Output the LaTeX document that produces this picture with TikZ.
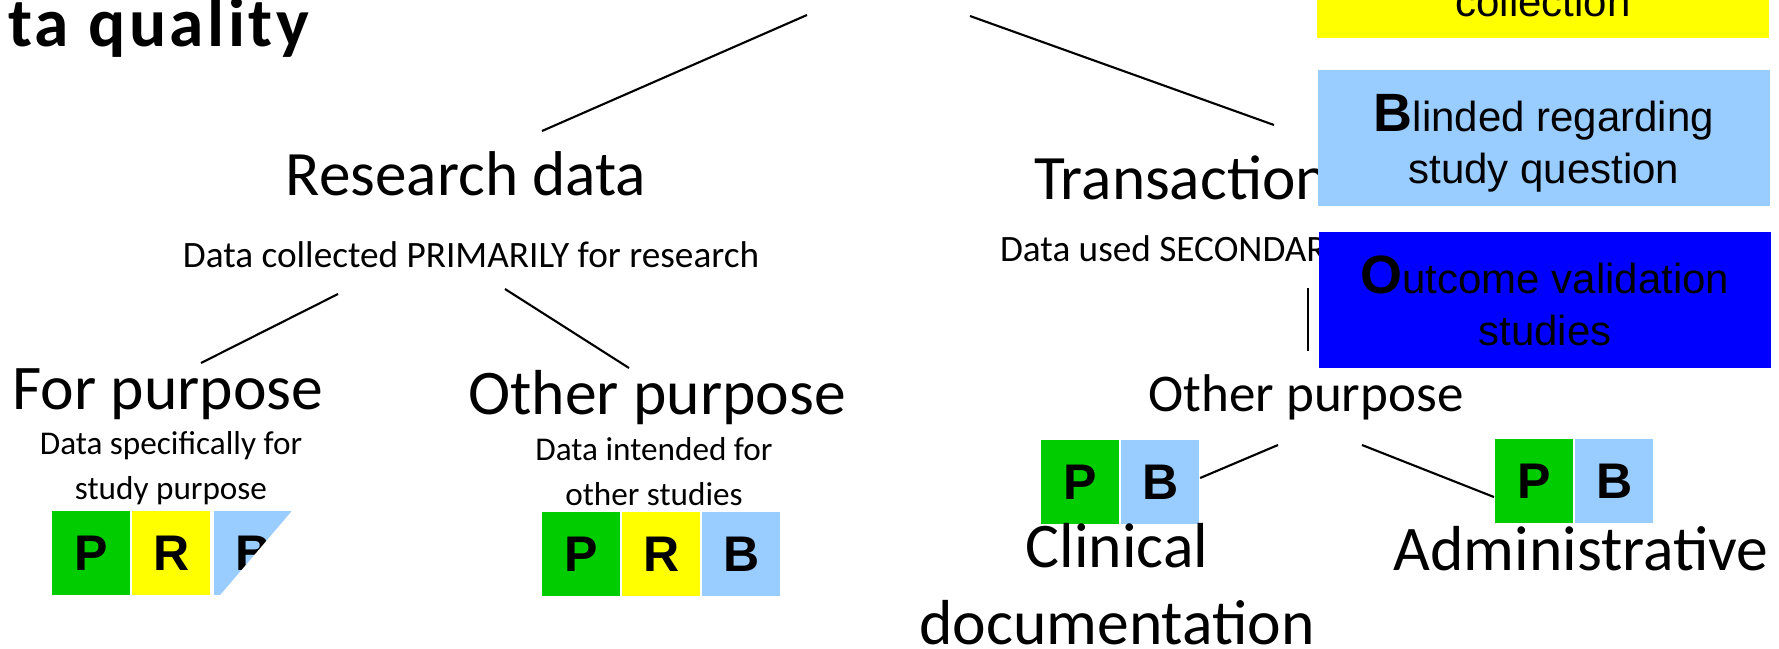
\documentclass[tikz,border=0pt]{standalone}
\usepackage{fontspec}
\setmainfont{Carlito}
\newfontfamily\arialfont{Liberation Sans}
\newfontfamily\titlefont[LetterSpace=5]{Carlito}
\usetikzlibrary{positioning,calc}
\definecolor{pgreen}{HTML}{00CC00}
\definecolor{pyellow}{HTML}{FFFF00}
\definecolor{plblue}{HTML}{99CCFF}
\definecolor{pblue}{HTML}{0000FF}
\tikzset{every picture/.style={line width=1.2pt}}
\newcommand{\initial}[1]{\rule{0pt}{27pt}{\bfseries\fontsize{30.7}{30}\selectfont #1}}
\newcommand{\lowline}{\rule[-5pt]{0pt}{5pt}}

\begin{document}
\begin{tikzpicture}[x=0.02cm, y=-0.02cm,
    branch/.style={draw=black, line width=1.2pt},
    titletxt/.style={inner sep=0pt, anchor=base west, font=\titlefont\bfseries\fontsize{39.5}{44}\selectfont},
    head/.style={inner sep=0pt, anchor=base, font=\fontsize{36}{44}\selectfont},
    sub/.style={inner sep=0pt, anchor=base, font=\fontsize{21.2}{25}\selectfont},
    kind/.style={inner sep=0pt, anchor=base, font=\fontsize{36.2}{43.8}\selectfont, align=center},
    note/.style={inner sep=0pt, anchor=base, font=\fontsize{18.9}{25.6}\selectfont, align=center},
    cellbox/.style={inner sep=0pt, minimum width=1.56cm, minimum height=1.7cm,
        font=\arialfont\bfseries\fontsize{28.5}{30}\selectfont},
    bigbox/.style={inner sep=0pt, minimum width=9.06cm, minimum height=2.72cm, align=center,
        font=\arialfont\fontsize{23.9}{29.6}\selectfont}
]
    \useasboundingbox (0,0) rectangle (1779,649);
    \clip (0,0) rectangle (1779,649);

    % title
    \node[titletxt] (title) at (7,46) {ta quality};

    % links from the root above the frame
    \coordinate (rootL) at (807,15);
    \coordinate (rootR) at (970,16);

    % research data
    \node[head] (research) at (466,195) {Research data};
    \node[sub] (researchsub) at (471,267) {Data collected PRIMARILY for research};

    % transactional data
    \node[head, anchor=base west] (transact) at (1033,199) {Transaction};
    \node[sub, anchor=base west] (transactsub) at (999,261) {Data used SECONDAR};

    % for purpose
    \node[kind] (forpurp) at (168,409) {For purpose};
    \node[note] (forpurpsub) at (171,499) {Data specifically for\\study purpose};
    \node[cellbox, fill=pgreen] (fpP) at (91,553) {P};
    \node[cellbox, fill=pyellow, right=0pt of fpP] (fpR) {R};
    \node[cellbox, fill=plblue, right=0.04cm of fpR] (fpB) {B};
    \fill[white] (fpB.north east) -- ([shift={(1,1)}]fpB.south east) -- ([shift={(5,1)}]fpB.south west) -- cycle;

    % other purpose (research)
    \node[kind] (otherpurp) at (657,414) {Other purpose};
    \node[note] (otherpurpsub) at (654,505) {Data intended for\\other studies};
    \node[cellbox, fill=pgreen] (opP) at (581,554) {P};
    \node[cellbox, fill=pyellow, right=0pt of opP] (opR) {R};
    \node[cellbox, fill=plblue, right=0pt of opR] (opB) {B};

    % other purpose (transactional)
    \node[inner sep=0pt, anchor=base, font=\fontsize{30.2}{36}\selectfont] (secpurp) at (1306,411) {Other purpose};
    \node[cellbox, fill=pgreen] (clinP) at (1080,482) {P};
    \node[cellbox, fill=plblue, right=0pt of clinP] (clinB) {B};
    \node[kind] (clinical) at (1117,644) {Clinical\\documentation};
    \node[cellbox, fill=pgreen] (adminP) at (1534,481) {P};
    \node[cellbox, fill=plblue, right=0pt of adminP] (adminB) {B};
    \node[kind] (admin) at (1581,570) {Administrative};

    % branches
    \draw[branch] (rootL) -- ([shift={(76,-64)}]research.base);
    \draw[branch] (rootR) -- ([shift={(241,-74)}]transact.base west);
    \draw[branch] ([shift={(-133,27)}]researchsub.base) -- ([shift={(33,-46)}]forpurp.base);
    \draw[branch] ([shift={(34,22)}]researchsub.base) -- ([shift={(-28,-46)}]otherpurp.base);
    \draw[branch] ([shift={(309,27)}]transactsub.base west) -- ([shift={(2,-60)}]secpurp.base);
    \draw[branch] ([shift={(-28,34)}]secpurp.base) -- ([shift={(0,-4)}]clinB.east);
    \draw[branch] ([shift={(56,34)}]secpurp.base) -- ([shift={(0,16)}]adminP.west);

    % legend boxes
    \node[bigbox, fill=pyellow] (collbox) at (1543,-30) {};
    \node[inner sep=0pt, anchor=base, font=\arialfont\fontsize{23.9}{29.6}\selectfont] (colltxt) at (1543,16) {collection};
    \node[bigbox, fill=plblue] (blindbox) at (1544,138)
        {\initial{B}linded regarding\\study question\lowline};
    \node[bigbox, fill=pblue] (outbox) at (1545,300)
        {\initial{O}utcome validation\\studies\lowline};
\end{tikzpicture}
\end{document}
